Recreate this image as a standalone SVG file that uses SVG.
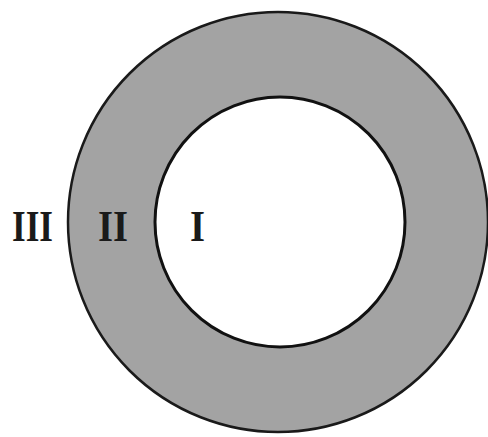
<svg xmlns="http://www.w3.org/2000/svg" width="488" height="437" viewBox="0 0 488 437">
<style>
.lbl{font-family:"Liberation Serif","Times New Roman",serif;font-weight:bold;font-size:44px;fill:#1a1a1a}
</style>
<rect width="488" height="437" fill="#ffffff"/>
<g id="ring">
<circle cx="278" cy="222" r="210" fill="#a3a3a3" stroke="#1a1a1a" stroke-width="2.5"/>
</g>
<g id="core">
<circle cx="280" cy="222" r="125" fill="#ffffff" stroke="#111111" stroke-width="3"/>
</g>
<g id="labels">
<text class="lbl" x="12" y="241" textLength="41" lengthAdjust="spacingAndGlyphs">III</text>
<text class="lbl" x="98" y="241" textLength="30" lengthAdjust="spacingAndGlyphs">II</text>
<text class="lbl" x="190" y="241" textLength="15" lengthAdjust="spacingAndGlyphs">I</text>
</g>
</svg>
